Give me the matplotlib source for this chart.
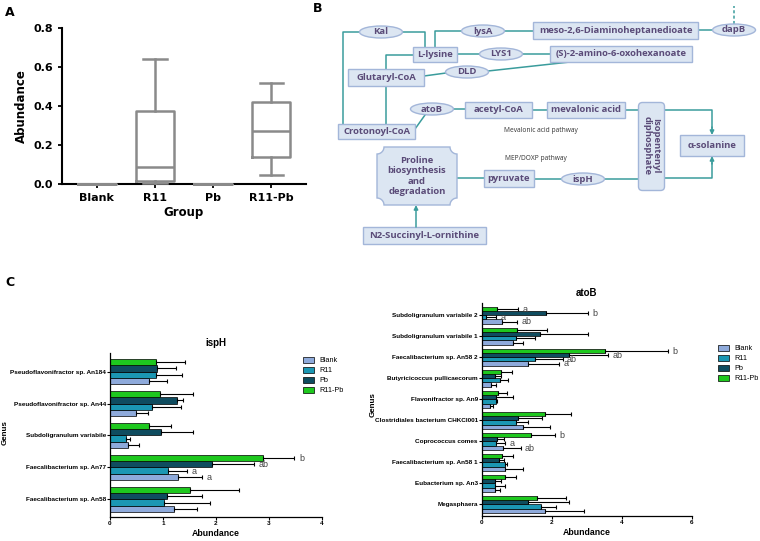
import numpy as np
import matplotlib.pyplot as plt
from matplotlib.patches import Ellipse, Rectangle, FancyBboxPatch, Polygon

# ---- panel A data (box plot stats)
groups = ['Blank', 'R11', 'Pb', 'R11-Pb']
box_low = [0, 0.005, 0, 0.046]
box_q1 = [0, 0.017, 0, 0.138]
box_med = [0, 0.086, 0, 0.273]
box_q3 = [0, 0.376, 0, 0.42]
box_high = [0, 0.64, 0, 0.52]

# ---- panel B diagram labels
rect_labels = ['meso-2,6-Diaminoheptanedioate', 'L-lysine', '(S)-2-amino-6-oxohexanoate',
               'Glutaryl-CoA', 'acetyl-CoA', 'mevalonic acid', 'Crotonoyl-CoA',
               'α-solanine', 'pyruvate', 'N2-Succinyl-L-ornithine']
enzyme_labels = ['Kal', 'lysA', 'dapB', 'LYS1', 'DLD', 'atoB', 'ispH']
notes = ['Mevalonic acid pathway', 'MEP/DOXP pathway']

# ---- panel C data
treat = ['Blank', 'R11', 'Pb', 'R11-Pb']

isph_genus = ['Pseudoflavonifractor sp. An184', 'Pseudoflavonifractor sp. An44',
              'Subdoligranulum variabile', 'Faecalibacterium sp. An77',
              'Faecalibacterium sp. An58']
isph_blank = [0.74, 0.49, 0.34, 1.28, 1.21]
isph_blank_hi = [1.07, 0.72, 0.54, 1.73, 1.64]
isph_r11 = [0.87, 0.79, 0.30, 1.10, 1.01]
isph_r11_hi = [1.35, 1.34, 0.38, 1.46, 1.88]
isph_pb = [0.89, 1.27, 0.96, 1.93, 1.07]
isph_pb_hi = [1.25, 1.38, 1.56, 2.71, 1.73]
isph_r11pb = [0.86, 0.94, 0.73, 2.89, 1.51]
isph_r11pb_hi = [1.42, 1.57, 1.15, 3.48, 2.44]
isph_letters = [(3, 'Blank', 'a'), (3, 'R11', 'a'), (3, 'Pb', 'ab'), (3, 'R11-Pb', 'b')]

atob_genus = ['Subdoligranulum variabile 2', 'Subdoligranulum variabile 1',
              'Faecalibacterium sp. An58 2', 'Butyricicoccus pullicaecorum',
              'Flavonifractor sp. An9', 'Clostridiales bacterium CHKCI001',
              'Coprococcus comes', 'Faecalibacterium sp. An58 1',
              'Eubacterium sp. An3', 'Megasphaera']
atob_blank = [0.58, 0.89, 1.31, 0.27, 0.22, 1.17, 0.60, 0.65, 0.36, 1.80]
atob_blank_hi = [1.00, 1.17, 2.20, 0.41, 0.32, 1.94, 1.10, 1.16, 0.52, 2.92]
atob_r11 = [0.12, 0.98, 1.51, 0.51, 0.41, 0.96, 0.39, 0.66, 0.36, 1.68]
atob_r11_hi = [0.40, 1.52, 2.30, 0.74, 0.44, 1.32, 0.65, 0.70, 0.65, 2.10]
atob_pb = [1.84, 1.67, 2.49, 0.36, 0.41, 1.03, 0.44, 0.48, 0.36, 1.30]
atob_pb_hi = [3.02, 3.02, 3.59, 0.55, 0.89, 1.72, 0.63, 0.62, 0.55, 2.49]
atob_r11pb = [0.43, 1.00, 3.51, 0.55, 0.46, 1.81, 1.41, 0.58, 0.67, 1.56]
atob_r11pb_hi = [1.03, 1.86, 5.30, 0.85, 0.70, 2.53, 2.08, 0.89, 0.96, 2.40]
atob_letters = [(0, 'R11-Pb', 'a'), (0, 'Pb', 'b'), (0, 'R11', 'a'), (0, 'Blank', 'ab'),
                (2, 'R11-Pb', 'b'), (2, 'Pb', 'ab'), (2, 'R11', 'ab'), (2, 'Blank', 'a'),
                (6, 'R11-Pb', 'b'), (6, 'R11', 'a'), (6, 'Blank', 'ab')]

colors = {'Blank': '#8eaadb', 'R11': '#1b97b3', 'Pb': '#0f4c5f', 'R11-Pb': '#1ec81e'}
offsets = {'R11-Pb': -0.3, 'Pb': -0.1, 'R11': 0.1, 'Blank': 0.3}

W, H = 760, 541
fig = plt.figure(figsize=(7.6, 5.41), dpi=100)


def px_axes(x0, y0, x1, y1):
    # axes from pixel box (top-left origin)
    return fig.add_axes([x0 / W, 1 - y1 / H, (x1 - x0) / W, (y1 - y0) / H])


# ================= Panel A
axA = px_axes(62, 28, 306, 184)
stats = []
for i, g in enumerate(groups):
    stats.append(dict(med=box_med[i], q1=box_q1[i], q3=box_q3[i],
                      whislo=box_low[i], whishi=box_high[i], fliers=[], label=g))
grey = '#8a8a8a'
lp = dict(color=grey, linewidth=1.8)
parts = axA.bxp(stats, positions=range(4), widths=0.66, showfliers=False,
                boxprops=lp, medianprops=lp, whiskerprops=lp, capprops=lp, capwidths=0.4)
for key in ['boxes', 'medians', 'whiskers', 'caps']:
    for art in parts[key]:
        art.set_clip_on(False)
        art.set_zorder(3)
axA.set_xlim(-0.6, 3.6)
axA.set_ylim(0, 0.8)
axA.set_yticks([0, 0.2, 0.4, 0.6, 0.8])
axA.set_yticklabels(['0.0', '0.2', '0.4', '0.6', '0.8'])
for s in ['top', 'right']:
    axA.spines[s].set_visible(False)
for s in ['left', 'bottom']:
    axA.spines[s].set_linewidth(1.5)
axA.tick_params(labelsize=8, width=1.3, length=3)
for t in axA.get_xticklabels() + axA.get_yticklabels():
    t.set_fontweight('bold')
axA.set_ylabel('Abundance', fontsize=8.5, fontweight='bold', labelpad=4)
axA.set_xlabel('Group', fontsize=8.5, fontweight='bold', labelpad=2)
fig.text(5 / W, 1 - 12 / H, 'A', fontsize=9, fontweight='bold', va='center')
fig.text(313 / W, 1 - 8 / H, 'B', fontsize=9, fontweight='bold', va='center')
fig.text(5 / W, 1 - 282 / H, 'C', fontsize=9, fontweight='bold', va='center')

# ================= Panel B (pixel coordinates)
axB = px_axes(300, 0, 760, 260)
axB.set_xlim(300, 760)
axB.set_ylim(260, 0)
axB.axis('off')

face = '#dce6f2'
edge = '#a3b6d9'
txtc = '#5a4b78'
line_c = '#3a9c9c'
dfont = dict(family='Open Sans', fontweight='bold', color=txtc, fontsize=6.8,
             ha='center', va='center')

rect_boxes = [(533, 22, 698, 39), (413, 47, 457, 62), (550, 46, 692, 62),
              (348, 69, 424, 86), (465, 102, 532, 118), (547, 102, 625, 118),
              (338, 124, 415, 139), (680, 135, 744, 156), (484, 170, 534, 187),
              (363, 227, 486, 244)]
ell_pos = [(381, 32), (483, 31), (734, 30), (501, 54), (467, 72), (432, 109), (583, 179)]

lines = [[(360, 32), (343, 32), (343, 124)],
         [(402, 32), (425, 32), (425, 47)],
         [(435, 47), (435, 31), (462, 31)],
         [(505, 31), (533, 31)],
         [(698, 30), (712, 30)],
         [(413, 55), (386, 55), (386, 69)],
         [(457, 54), (479, 54)],
         [(523, 54), (550, 54)],
         [(424, 76), (446, 73)],
         [(488, 71), (570, 62)],
         [(386, 86), (386, 124)],
         [(415, 129), (425, 115)],
         [(453, 109), (465, 109)],
         [(532, 110), (547, 110)],
         [(625, 110), (638, 110)],
         [(457, 178), (484, 178)],
         [(534, 179), (562, 179)],
         [(605, 179), (638, 179)],
         [(665, 110), (712, 110), (712, 128)],
         [(665, 178), (712, 178), (712, 163)]]
for ln in lines:
    xs, ys = zip(*ln)
    axB.plot(xs, ys, color=line_c, lw=1.1, zorder=1)
axB.plot([734, 734], [24, 6], color=line_c, lw=1.1, ls=(0, (2, 1.5)), zorder=1)
for (xa, ya), (xb, yb) in [((712, 127), (712, 135)), ((712, 164), (712, 156)),
                           ((416, 227), (416, 205))]:
    axB.annotate('', xy=(xb, yb), xytext=(xa, ya),
                 arrowprops=dict(arrowstyle='-|>', color=line_c, lw=1.1,
                                 mutation_scale=6, shrinkA=0, shrinkB=0))

for lab, (x0, y0, x1, y1) in zip(rect_labels, rect_boxes):
    axB.add_patch(Rectangle((x0, y0), x1 - x0, y1 - y0, fc=face, ec=edge, lw=1, zorder=2))
    axB.text((x0 + x1) / 2, (y0 + y1) / 2, lab, zorder=3, **dfont)
for lab, (cx, cy) in zip(enzyme_labels, ell_pos):
    axB.add_patch(Ellipse((cx, cy), 43, 12, fc=face, ec=edge, lw=1, zorder=2))
    axB.text(cx, cy, lab, zorder=3, **dfont)

# isopentenyl diphosphate (rounded, vertical)
axB.add_patch(FancyBboxPatch((640, 104), 23, 85, boxstyle='round,pad=1.5,rounding_size=4',
                             fc=face, ec=edge, lw=1, zorder=2))
axB.text(651.5, 146, 'Isopentenyl\ndiphosphate', rotation=270, zorder=3,
         linespacing=1.0, **dfont)

# proline box with notched corners
x0, y0, x1, y1, r = 377, 147, 457, 205, 7
ang = np.linspace(0, np.pi / 2, 8)
corners = [(x0, y0 + r)] + [(x0 + r * np.sin(a), y0 + r * np.cos(a)) for a in ang]
corners += [(x1 - r * np.cos(a), y0 + r * np.sin(a)) for a in ang]
corners += [(x1 - r * np.sin(a), y1 - r * np.cos(a)) for a in ang]
corners += [(x0 + r * np.cos(a), y1 - r * np.sin(a)) for a in ang]
axB.add_patch(Polygon(corners, closed=True, fc=face, ec=edge, lw=1, zorder=2))
axB.text((x0 + x1) / 2, (y0 + y1) / 2, 'Proline\nbiosynthesis\nand\ndegradation',
         zorder=3, linespacing=1.2, **dfont)

axB.text(504, 130, notes[0], family='Open Sans', fontsize=4.8, color='#333333', va='center')
axB.text(505, 159, notes[1], family='Open Sans', fontsize=4.8, color='#333333', va='center')


# ================= Panel C
def hbar_panel(ax, genus, vals, his, letters, xmax, title):
    y = np.arange(len(genus))
    for t in treat:
        v = np.array(vals[t])
        hi = np.array(his[t])
        ax.barh(y + offsets[t], v, height=0.2, color=colors[t], edgecolor='black',
                linewidth=0.5, label=t,
                xerr=[np.zeros_like(v), hi - v],
                error_kw=dict(ecolor='black', elinewidth=0.8, capsize=1.3, capthick=0.8))
    for gi, t, s in letters:
        ax.text(his[t][gi] + xmax * 0.022, gi + offsets[t] + 0.02, s, fontsize=6.5,
                color='#444444', va='center', ha='left', family='Liberation Sans')
    ax.set_yticks(y)
    ax.set_yticklabels(genus)
    ax.set_ylim(len(genus) - 0.45, -0.58)
    ax.set_xlim(0, xmax)
    for s in ['top', 'right']:
        ax.spines[s].set_visible(False)
    for s in ['left', 'bottom']:
        ax.spines[s].set_linewidth(0.9)
    ax.tick_params(labelsize=4.6, width=0.8, length=2, pad=1)
    for t in ax.get_xticklabels() + ax.get_yticklabels():
        t.set_fontweight('bold')
        t.set_family('Liberation Sans')
    ax.set_xlabel('Abundance', fontsize=6.3, fontweight='bold', family='Liberation Sans', labelpad=2)
    ax.set_title(title, fontsize=7, fontweight='bold', family='Liberation Sans', pad=5)


axC1 = px_axes(110, 353, 322, 517)
hbar_panel(axC1, isph_genus,
           {'Blank': isph_blank, 'R11': isph_r11, 'Pb': isph_pb, 'R11-Pb': isph_r11pb},
           {'Blank': isph_blank_hi, 'R11': isph_r11_hi, 'Pb': isph_pb_hi, 'R11-Pb': isph_r11pb_hi},
           isph_letters, 4, 'ispH')
axC1.set_xticks([0, 1, 2, 3, 4])
fig.text(5 / W, 1 - 433 / H, 'Genus', rotation=90, fontsize=5.8, fontweight='bold',
         family='Liberation Sans', va='center', ha='center')

axC2 = px_axes(482, 303, 692, 516)
hbar_panel(axC2, atob_genus,
           {'Blank': atob_blank, 'R11': atob_r11, 'Pb': atob_pb, 'R11-Pb': atob_r11pb},
           {'Blank': atob_blank_hi, 'R11': atob_r11_hi, 'Pb': atob_pb_hi, 'R11-Pb': atob_r11pb_hi},
           atob_letters, 6, 'atoB')
axC2.set_xticks([0, 2, 4, 6])
fig.text(373 / W, 1 - 405 / H, 'Genus', rotation=90, fontsize=5.8, fontweight='bold',
         family='Liberation Sans', va='center', ha='center')

for ax, (lx, ly) in [(axC1, (300, 354)), (axC2, (715, 342))]:
    h, l = ax.get_legend_handles_labels()
    fig.legend(h, l, loc='upper left', bbox_to_anchor=(lx / W, 1 - ly / H),
               frameon=False, prop=dict(family='Liberation Sans', size=5.2),
               handlelength=1.6, handleheight=0.9, labelspacing=0.35, handletextpad=0.7,
               borderaxespad=0)

fig.savefig('out.png', dpi=100)
